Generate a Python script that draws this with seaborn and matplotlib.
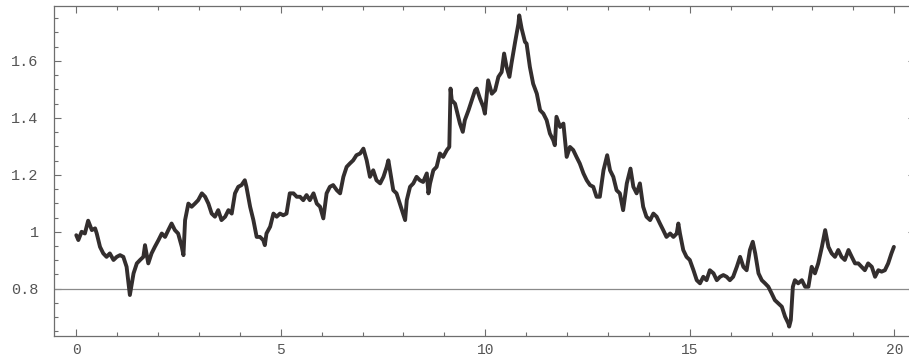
import numpy as np
import pandas as pd
import matplotlib
matplotlib.use("Agg")
import matplotlib.pyplot as plt
from matplotlib.ticker import MultipleLocator, FixedLocator
import seaborn as sns

# Sampled path, split into three stretches of time
t_early = [0.00, 0.05, 0.13, 0.21, 0.29, 0.38, 0.46, 0.50, 0.58, 0.66, 0.74, 0.82,
           0.91, 0.99, 1.07, 1.15, 1.23, 1.31, 1.40, 1.48, 1.56, 1.64, 1.68, 1.76,
           1.84, 1.92, 2.01, 2.09, 2.17, 2.25, 2.33, 2.41, 2.49, 2.58, 2.62, 2.66,
           2.74, 2.82, 2.90, 2.98, 3.07, 3.15, 3.23, 3.31, 3.39, 3.47, 3.55, 3.64,
           3.72, 3.80, 3.88, 3.96, 4.04, 4.12, 4.16, 4.25, 4.33, 4.41, 4.49, 4.57,
           4.61, 4.65, 4.74, 4.82, 4.90, 4.98, 5.06, 5.14, 5.18, 5.22, 5.31, 5.39]
s_early = [0.988, 0.971, 1.000, 0.994, 1.039, 1.006, 1.012, 0.994, 0.947, 0.924, 0.912, 0.924,
           0.901, 0.912, 0.918, 0.912, 0.877, 0.778, 0.854, 0.889, 0.901, 0.912, 0.953, 0.889,
           0.924, 0.947, 0.971, 0.994, 0.982, 1.006, 1.029, 1.006, 0.994, 0.947, 0.918, 1.041,
           1.099, 1.088, 1.099, 1.111, 1.135, 1.123, 1.099, 1.064, 1.053, 1.076, 1.041, 1.053,
           1.076, 1.064, 1.135, 1.158, 1.164, 1.181, 1.158, 1.088, 1.041, 0.982, 0.982, 0.971,
           0.953, 0.994, 1.018, 1.064, 1.053, 1.064, 1.058, 1.064, 1.099, 1.135, 1.135, 1.123]

t_middle = [5.47, 5.55, 5.63, 5.71, 5.80, 5.88, 5.96, 6.04, 6.12, 6.20, 6.28, 6.37,
            6.45, 6.53, 6.61, 6.69, 6.77, 6.85, 6.94, 7.02, 7.10, 7.18, 7.26, 7.34,
            7.43, 7.51, 7.59, 7.63, 7.67, 7.75, 7.83, 7.91, 7.99, 8.04, 8.08, 8.16,
            8.24, 8.32, 8.40, 8.48, 8.57, 8.61, 8.65, 8.73, 8.81, 8.89, 8.97, 9.06,
            9.12, 9.15, 9.18, 9.26, 9.30, 9.38, 9.45, 9.50, 9.59, 9.67, 9.75, 9.79,
            9.87, 9.95, 9.99, 10.07, 10.16, 10.24, 10.32, 10.40, 10.46, 10.52, 10.59, 10.64,
            10.73, 10.81, 10.83, 10.89, 10.97, 11.01, 11.09, 11.17, 11.26, 11.34, 11.42, 11.50,
            11.58, 11.66, 11.70, 11.74, 11.83, 11.91, 11.99, 12.07, 12.15, 12.23, 12.31, 12.40,
            12.48, 12.56, 12.64, 12.72]
s_middle = [1.123, 1.111, 1.129, 1.111, 1.135, 1.099, 1.088, 1.047, 1.135, 1.158, 1.164, 1.146,
            1.135, 1.193, 1.228, 1.240, 1.251, 1.269, 1.275, 1.292, 1.251, 1.193, 1.216, 1.181,
            1.170, 1.193, 1.228, 1.251, 1.216, 1.146, 1.135, 1.099, 1.064, 1.041, 1.111, 1.158,
            1.170, 1.193, 1.181, 1.175, 1.205, 1.135, 1.170, 1.216, 1.228, 1.275, 1.263, 1.287,
            1.298, 1.503, 1.462, 1.450, 1.427, 1.380, 1.351, 1.392, 1.427, 1.462, 1.497, 1.503,
            1.468, 1.439, 1.415, 1.532, 1.485, 1.497, 1.544, 1.561, 1.626, 1.579, 1.544, 1.591,
            1.667, 1.731, 1.760, 1.713, 1.667, 1.661, 1.579, 1.520, 1.485, 1.427, 1.415, 1.392,
            1.345, 1.322, 1.304, 1.404, 1.368, 1.380, 1.263, 1.298, 1.287, 1.263, 1.240, 1.205,
            1.181, 1.164, 1.158, 1.123]

t_late = [12.80, 12.89, 12.98, 13.05, 13.13, 13.21, 13.29, 13.37, 13.46, 13.55, 13.62, 13.70,
          13.78, 13.86, 13.94, 14.03, 14.11, 14.19, 14.27, 14.35, 14.43, 14.52, 14.60, 14.68,
          14.72, 14.76, 14.84, 14.92, 15.00, 15.09, 15.17, 15.25, 15.33, 15.41, 15.49, 15.58,
          15.66, 15.74, 15.82, 15.90, 15.98, 16.06, 16.15, 16.23, 16.31, 16.39, 16.47, 16.54,
          16.60, 16.68, 16.76, 16.84, 16.92, 17.00, 17.08, 17.16, 17.25, 17.33, 17.41, 17.43,
          17.47, 17.52, 17.57, 17.65, 17.74, 17.82, 17.90, 17.98, 18.06, 18.14, 18.23, 18.31,
          18.39, 18.47, 18.55, 18.63, 18.71, 18.79, 18.88, 18.96, 19.04, 19.12, 19.20, 19.28,
          19.36, 19.45, 19.53, 19.61, 19.69, 19.77, 19.85, 19.93, 19.99]
s_late = [1.123, 1.216, 1.269, 1.216, 1.193, 1.146, 1.135, 1.076, 1.170, 1.222, 1.158, 1.135,
          1.170, 1.088, 1.053, 1.041, 1.064, 1.053, 1.029, 1.006, 0.982, 0.994, 0.982, 0.994,
          1.029, 0.994, 0.936, 0.912, 0.901, 0.865, 0.830, 0.819, 0.842, 0.830, 0.865, 0.854,
          0.830, 0.842, 0.848, 0.842, 0.830, 0.842, 0.877, 0.912, 0.877, 0.865, 0.936, 0.965,
          0.924, 0.854, 0.830, 0.819, 0.807, 0.784, 0.760, 0.749, 0.737, 0.702, 0.678, 0.667,
          0.690, 0.807, 0.830, 0.819, 0.830, 0.807, 0.807, 0.877, 0.854, 0.889, 0.947, 1.006,
          0.947, 0.924, 0.912, 0.936, 0.912, 0.901, 0.936, 0.912, 0.889, 0.889, 0.877, 0.865,
          0.889, 0.877, 0.842, 0.865, 0.860, 0.865, 0.889, 0.924, 0.947]

reference_level = 0.8
x_major = [0, 5, 10, 15, 20]
x_labels = ["0", "5", "10", "15", "20"]
y_major = [0.8, 1.0, 1.2, 1.4, 1.6]
y_labels = ["0.8", "1", "1.2", "1.4", "1.6"]

path = pd.DataFrame({
    "t": t_early + t_middle + t_late,
    "s": s_early + s_middle + s_late,
})

sns.set_theme(style="white")
plt.rcParams["font.family"] = ["Liberation Mono", "DejaVu Sans Mono"]

W, H = 909, 357
fig = plt.figure(figsize=(W / 100, H / 100), dpi=100)
fig.patch.set_facecolor("white")

x_lo, x_hi = -0.545, 20.5
y_lo, y_hi = 0.634, 1.793
left_px, top_px, bottom_px = 54, 6, 336
px_per_x = 40.9
ax_w = (x_hi - x_lo) * px_per_x
ax = fig.add_axes([left_px / W, (H - bottom_px) / H, ax_w / W, (bottom_px - top_px) / H])
ax.set_facecolor("white")

# reference level across the whole frame
ax.axhline(reference_level, color="#8a8a8a", linewidth=0.9, zorder=1)

sns.lineplot(data=path, x="t", y="s", ax=ax, sort=False, color="#332e2e",
             linewidth=2.8, zorder=3)

ax.set_xlim(x_lo, x_hi)
ax.set_ylim(y_lo, y_hi)
ax.set_xlabel("")
ax.set_ylabel("")

ax.xaxis.set_major_locator(FixedLocator(x_major))
ax.set_xticklabels(x_labels)
ax.xaxis.set_minor_locator(MultipleLocator(1))
ax.yaxis.set_major_locator(FixedLocator(y_major))
ax.set_yticklabels(y_labels)
ax.yaxis.set_minor_locator(MultipleLocator(0.05))

edge = "#6e6e6e"
for sp in ax.spines.values():
    sp.set_color(edge)
    sp.set_linewidth(0.9)
    sp.set_visible(True)

ax.tick_params(which="both", direction="in", top=True, right=True,
               bottom=True, left=True, color=edge, width=0.8)
ax.tick_params(which="major", length=5)
ax.tick_params(which="minor", length=3)
ax.tick_params(axis="x", which="major", labelsize=10.5, labelcolor="#555555", pad=5)
ax.tick_params(axis="y", which="major", labelsize=11, labelcolor="#555555", pad=11)

fig.savefig("out.png", dpi=100, facecolor="white")
